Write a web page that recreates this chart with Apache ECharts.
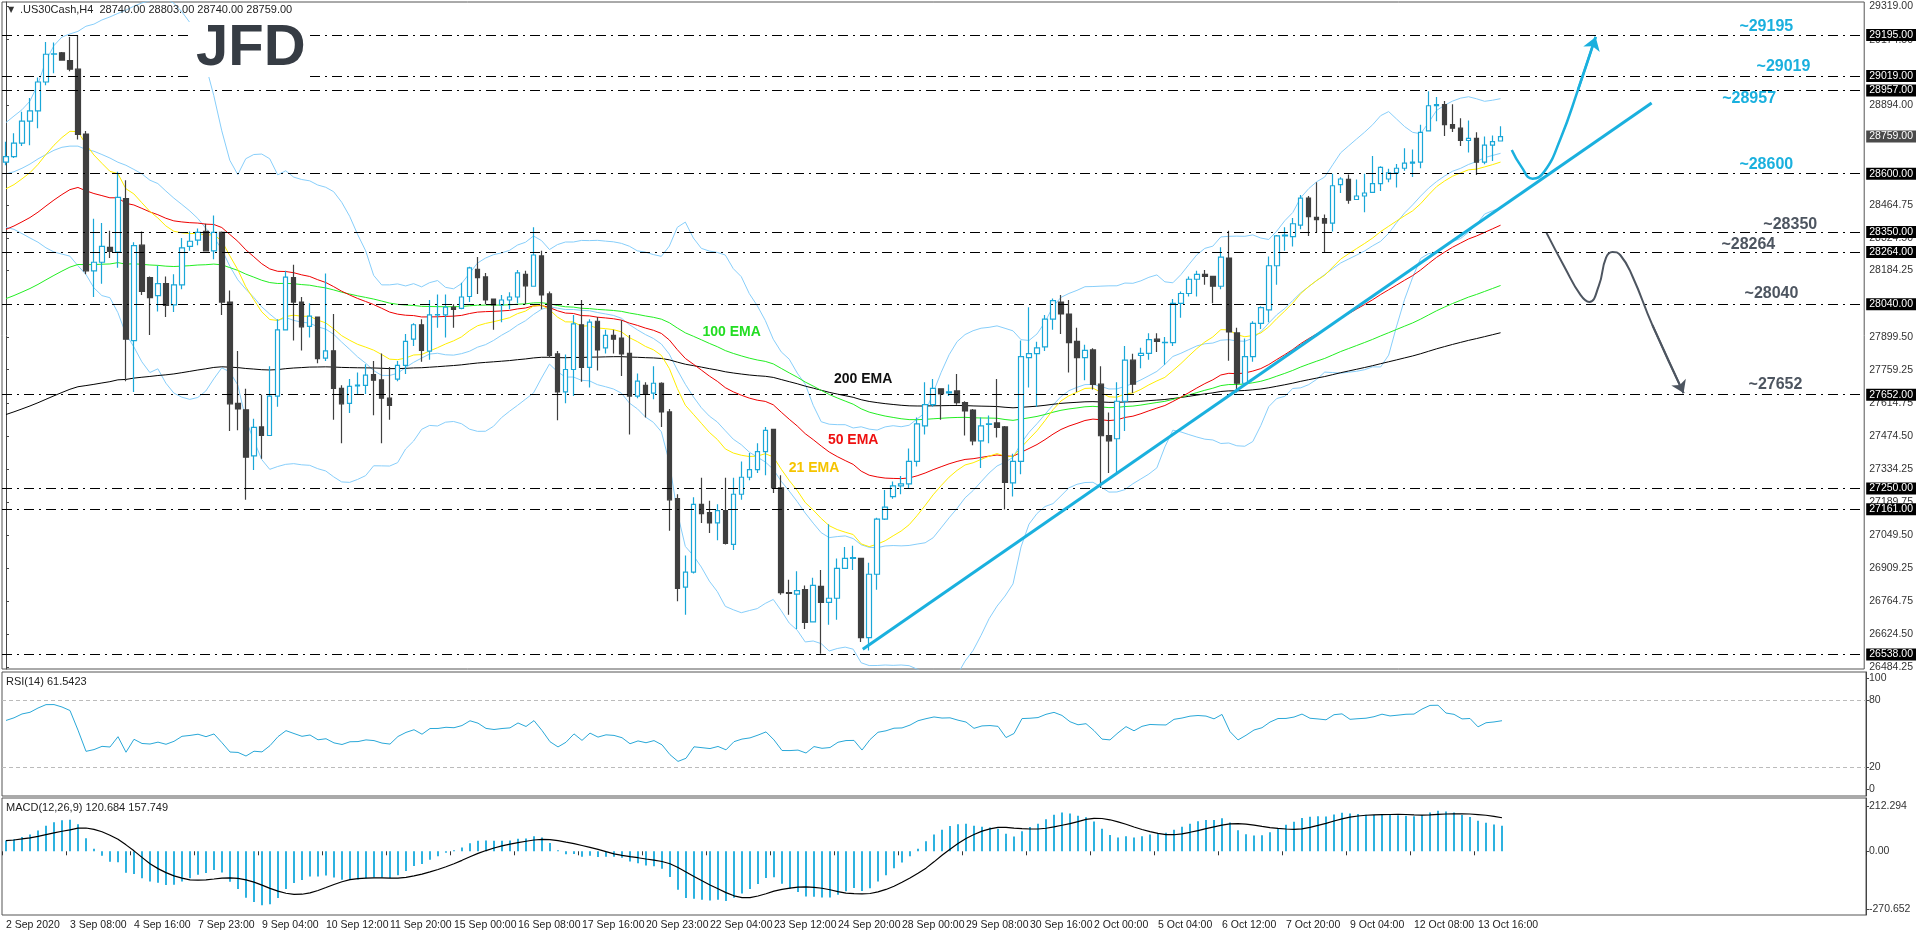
<!DOCTYPE html><html><head><meta charset="utf-8">
<script src="https://cdn.jsdelivr.net/npm/echarts@6/dist/echarts.min.js"></script>
<style>html,body{margin:0;background:#fff}#c{width:1916px;height:936px}</style></head><body><div id="c"></div><script>
const xLabels=['2 Sep 2020','3 Sep 08:00','4 Sep 16:00','7 Sep 23:00','9 Sep 04:00','10 Sep 12:00','11 Sep 20:00','15 Sep 00:00','16 Sep 08:00','17 Sep 16:00','20 Sep 23:00','22 Sep 04:00','23 Sep 12:00','24 Sep 20:00','28 Sep 00:00','29 Sep 08:00','30 Sep 16:00','2 Oct 00:00','5 Oct 04:00','6 Oct 12:00','7 Oct 20:00','9 Oct 04:00','12 Oct 08:00','13 Oct 16:00'];
// [open, close, low, high]
const ohlc=[[28649,28673,28636,28737],[28673,28731,28667,28773],[28731,28825,28718,28865],[28825,28869,28722,28924],[28869,28993,28795,29012],[28993,29112,28979,29164],[29112,29114,29030,29162],[29118,29087,29084,29122],[29085,29048,29039,29186],[29048,28768,28746,29195],
[28770,28183,28168,28783],[28183,28220,28071,28407],[28220,28288,28128,28388],[28284,28266,28238,28355],[28264,28498,28196,28608],[28493,27890,27710,28572],[27884,28291,27664,28306],[28293,28095,28080,28352],[28154,28068,27908,28159],[28077,28128,28009,28205],
[28128,28035,27985,28159],[28037,28123,28007,28168],[28123,28282,28104,28324],[28288,28310,28269,28352],[28315,28348,28293,28365],[28352,28269,28269,28385],[28269,28348,28233,28420],[28348,28049,27994,28352],[28049,27613,27496,28099],[27615,27591,27499,27839],
[27587,27384,27201,27677],[27390,27512,27329,27549],[27514,27477,27377,27652],[27477,27646,27477,27774],[27646,27930,27600,27976],[27930,28156,27927,28183],[28154,28049,27884,28209],[28049,27943,27842,28071],[27945,27989,27897,28044],[27985,27807,27787,27985],
[27809,27840,27796,28172],[27840,27679,27545,27998],[27679,27613,27444,27692],[27615,27688,27573,27719],[27690,27693,27652,27747],[27692,27736,27655,27783],[27738,27714,27564,27796],[27716,27637,27444,27829],[27637,27606,27545,27771],[27719,27778,27710,27796],
[27778,27881,27741,27912],[27890,27952,27861,27958],[27952,27842,27793,27976],[27839,27994,27802,28058],[27994,27996,27939,28082],[27994,28027,27897,28082],[28027,28018,27939,28040],[28022,28071,28018,28132],[28073,28196,28049,28201],[28190,28154,28084,28242],
[28157,28058,28040,28174],[28062,28037,27930,28062],[28037,28058,27963,28080],[28058,28071,28018,28091],[28071,28174,28044,28187],[28168,28119,28040,28183],[28117,28251,28117,28370],[28247,28080,28018,28269],[28084,27820,27811,28095],[27827,27664,27542,27839],
[27664,27760,27615,27824],[27760,27956,27646,27994],[27952,27769,27707,28058],[27769,27963,27683,27976],[27967,27844,27756,27985],[27853,27906,27829,27930],[27906,27890,27829,27930],[27895,27827,27732,27971],[27829,27646,27481,27908],[27646,27710,27637,27743],
[27692,27655,27554,27705],[27659,27701,27633,27774],[27701,27578,27514,27705],[27578,27201,27069,27591],[27206,26821,26766,27225],[26827,26891,26708,26962],[26891,27182,26885,27212],[27182,27142,27102,27296],[27146,27102,27059,27197],[27102,27155,27028,27182],
[27155,27014,27010,27296],[27010,27225,26986,27296],[27225,27298,27201,27366],[27298,27331,27285,27402],[27331,27408,27316,27444],[27408,27499,27307,27514],[27503,27252,27230,27503],[27252,26803,26794,27307],[26803,26800,26708,26858],[26797,26812,26647,26895],
[26816,26675,26647,26834],[26678,26834,26675,26867],[26830,26761,26541,26900],[26761,26779,26665,27096],[26779,26907,26687,26950],[26907,26950,26904,26999],[26950,26953,26900,27004],[26950,26610,26592,26950],[26610,26882,26555,26931],[26882,27118,26816,27124],
[27118,27170,27115,27243],[27215,27261,27206,27280],[27261,27270,27225,27303],[27270,27366,27252,27421],[27366,27527,27344,27554],[27518,27609,27481,27705],[27609,27679,27600,27719],[27677,27655,27545,27677],[27660,27664,27646,27696],[27668,27618,27609,27741],
[27618,27582,27477,27624],[27586,27454,27435,27591],[27454,27518,27338,27554],[27525,27527,27444,27563],[27531,27512,27468,27719],[27514,27276,27160,27518],[27274,27366,27215,27399],[27366,27815,27311,27884],[27811,27828,27683,28027],[27828,27853,27600,27879],
[27857,27976,27839,27994],[27976,28055,27930,28064],[28049,27998,27912,28080],[27998,27875,27747,28058],[27881,27811,27664,27939],[27811,27842,27714,27866],[27844,27696,27674,27851],[27697,27476,27252,27774],[27477,27454,27316,27576],[27463,27624,27316,27705],
[27624,27800,27496,27861],[27800,27697,27659,27828],[27820,27829,27765,27853],[27829,27888,27802,27915],[27890,27881,27835,27915],[27875,27877,27780,27899],[27875,28044,27861,28062],[28044,28086,27982,28095],[28086,28147,28073,28159],[28147,28168,28073,28183],
[28168,28159,28123,28187],[28159,28117,28044,28159],[28117,28242,28104,28284],[28238,27921,27798,28355],[27917,27701,27661,27939],[27701,27815,27697,27893],[27815,27958,27793,27967],[27958,28025,27934,28031],[28016,28205,27963,28245],[28205,28333,28123,28337],
[28333,28336,28269,28370],[28330,28385,28288,28410],[28379,28495,28361,28508],[28495,28416,28333,28504],[28412,28403,28348,28563],[28407,28388,28264,28425],[28388,28548,28352,28599],[28553,28577,28517,28585],[28575,28486,28471,28596],[28489,28504,28489,28575],
[28504,28517,28434,28599],[28520,28557,28517,28676],[28557,28627,28526,28632],[28577,28603,28563,28621],[28603,28623,28541,28641],[28623,28645,28612,28709],[28645,28649,28586,28704],[28649,28777,28623,28810],[28783,28891,28783,28953],[28891,28896,28825,28929],
[28896,28810,28761,28911],[28810,28795,28779,28898],[28795,28742,28718,28838],[28742,28751,28691,28828],[28751,28649,28594,28777],[28649,28722,28640,28759],[28722,28737,28654,28764],[28740,28759,28740,28803]];
// Bollinger band values read for the first 19 bars (before a full 20-bar window exists)
const bbUpperHead=[28819,28847,28874,28911,28984,29085,29149,29186,29199,29210,29232,29241,29259,29272,29287,29301,29318,29332,29341];
const bbMidHead=[28599,28608,28623,28641,28663,28682,28700,28713,28718,28718,28704,28696,28682,28667,28649,28636,28618,28599,28572];
const bbLowerHead=[28370,28361,28343,28324,28306,28282,28264,28255,28246,28205,28168,28110,28077,28068,28004,27912,27857,27793,27747];
// EMA start values read at the first bar
const emaSeeds={e21:28535,e50:28361,e100:28064,e200:27567,e12:28610,e26:28560};
const levels=[29195,29019,28957,28600,28350,28264,28040,27652,27250,27161,26538];
const lastPrice=28759;
const mainTicks=[29319.00,29174.50,28894.00,28464.75,28324.50,28184.25,27899.50,27759.25,27614.75,27474.50,27334.25,27189.75,27049.50,26909.25,26764.75,26624.50,26484.25];
const levelNotes=[['~29195',220.25,29229,'#1ab0de'],['~29019',222.4,29057,'#1ab0de'],['~28957',218.1,28920,'#1ab0de'],['~28600',220.25,28637,'#1ab0de'],['~28350',223.25,28380,'#4d5560'],['~28264',218,28294,'#4d5560'],['~28040',220.9,28084,'#4d5560'],['~27652',221.4,27694,'#4d5560']];
const emaNotes=[['100 EMA',90.8,27917,'#22dd22'],['200 EMA',107.25,27715,'#111'],['50 EMA',106,27454,'#ee1111'],['21 EMA',101.1,27334,'#f5c400']];
const trendLine=[[107.2,26560],[205.9,28903]];
const bullPath=[[188.4,28701],[189.6,28630],[191,28578],[192.5,28610],[194.5,28750],[196.7,28960],[198.9,29186]];
const bearPath=[[192.75,28346],[195,28200],[197,28080],[198.1,28050],[199.3,28120],[200.2,28240],[201,28264],[202,28250],[203.5,28160],[206,27950],[209.9,27659]];

const N=233;
const cats=Array.from({length:N},(_,i)=>(i%8===0&&i/8<xLabels.length)?xLabels[i/8]:'');
const closes=ohlc.map(d=>d[1]);
function ema(n,seed){let e=seed;return closes.map((c,i)=>{if(i>0)e=e+2/(n+1)*(c-e);return +e.toFixed(2);});}
const ema21=ema(21,emaSeeds.e21),ema50=ema(50,emaSeeds.e50),ema100=ema(100,emaSeeds.e100),ema200=ema(200,emaSeeds.e200);
const bbU=[],bbM=[],bbL=[];
closes.forEach((c,i)=>{if(i<19){bbU.push(bbUpperHead[i]);bbM.push(bbMidHead[i]);bbL.push(bbLowerHead[i]);return;}
 const w=closes.slice(i-19,i+1);const m=w.reduce((a,b)=>a+b,0)/20;const s=Math.sqrt(w.reduce((a,b)=>a+(b-m)*(b-m),0)/20);
 bbU.push(+(m+2*s).toFixed(2));bbM.push(+m.toFixed(2));bbL.push(+(m-2*s).toFixed(2));});
let ag=42,al=26;const rsi=closes.map((c,i)=>{if(i>0){const ch=c-closes[i-1];ag=(ag*13+Math.max(ch,0))/14;al=(al*13+Math.max(-ch,0))/14;}return +(100-100/(1+ag/al)).toFixed(2);});
const e12=ema(12,emaSeeds.e12),e26=ema(26,emaSeeds.e26);
const macd=e12.map((v,i)=>+(v-e26[i]).toFixed(2));
const signal=macd.map((v,i)=>{const w=macd.slice(Math.max(0,i-8),i+1);return +(w.reduce((a,b)=>a+b,0)/w.length).toFixed(2);});

const F='Liberation Sans';
const dashDot=[10,5,2,5];
const chart=echarts.init(document.getElementById('c'));
const hiddenX=g=>({type:'category',gridIndex:g,data:cats,boundaryGap:true,axisLine:{show:false},axisTick:{show:false},axisLabel:{show:false}});
const lineS=(name,data,color,w)=>({name,type:'line',xAxisIndex:0,yAxisIndex:0,data,showSymbol:false,symbol:'none',lineStyle:{color,width:w||1},silent:true,z:3});
const noteData=(arr,size)=>arr.map(a=>({coord:[a[1],a[2]],symbolSize:1,itemStyle:{color:'rgba(0,0,0,0)'},label:{show:true,position:'inside',formatter:a[0],color:a[3],fontFamily:F,fontWeight:'bold',fontSize:size}}));
const boxLabel=(v,bg)=>({show:true,position:'end',distance:2,formatter:v.toFixed(2),backgroundColor:bg,color:'#fff',fontFamily:F,fontSize:10.5,padding:[1,3,0,3]});
chart.setOption({
 animation:false,backgroundColor:'#fff',
 grid:[{left:2,top:2,width:1864,height:667,show:true,borderColor:'#555',borderWidth:1},
       {left:2,top:672,width:1864,height:124,show:true,borderColor:'#555',borderWidth:1},
       {left:2,top:798,width:1864,height:117,show:true,borderColor:'#555',borderWidth:1}],
 xAxis:[hiddenX(0),hiddenX(1),
  {type:'category',gridIndex:2,data:cats,boundaryGap:true,position:'bottom',axisLine:{show:false},
   axisTick:{show:true,length:4,interval:i=>cats[i]!=='',lineStyle:{color:'#333'}},
   axisLabel:{show:true,interval:i=>cats[i]!=='',align:'left',margin:5,color:'#222',fontFamily:F,fontSize:10.5}},
  {type:'value',gridIndex:0,min:-0.5,max:232.5,show:false}],
 yAxis:[
  {type:'value',gridIndex:0,position:'right',min:26475.7,max:29336,splitLine:{show:false},axisLine:{show:true,lineStyle:{color:'#444'}},
   axisTick:{show:true,length:3,customValues:mainTicks},axisLabel:{customValues:mainTicks,formatter:v=>v.toFixed(2),color:'#333',fontFamily:F,fontSize:10.5,margin:5}},
  {type:'value',gridIndex:1,position:'right',min:-6.3,max:105.4,splitLine:{show:false},axisLine:{show:true,lineStyle:{color:'#444'}},
   axisTick:{show:true,length:3,customValues:[100,80,20,0]},axisLabel:{customValues:[100,80,20,0],color:'#333',fontFamily:F,fontSize:10.5,margin:3}},
  {type:'value',gridIndex:2,position:'right',min:-298.8,max:249.9,splitLine:{show:false},axisLine:{show:true,lineStyle:{color:'#444'}},
   axisTick:{show:true,length:3,customValues:[212.294,0,-270.652]},axisLabel:{customValues:[212.294,0,-270.652],formatter:v=>v===0?'0.00':String(v),color:'#333',fontFamily:F,fontSize:10.5,margin:3}}],
 series:[
  lineS('BBU',bbU,'#87cefa'),lineS('BBM',bbM,'#87cefa'),lineS('BBL',bbL,'#87cefa'),
  lineS('EMA200',ema200,'#000'),lineS('EMA100',ema100,'#22ee22'),lineS('EMA50',ema50,'#ee0000'),lineS('EMA21',ema21,'#ffee00'),
  {type:'candlestick',xAxisIndex:0,yAxisIndex:0,data:ohlc.map(d=>[d[0],d[1],d[2],d[3]]),barWidth:5,z:4,
   itemStyle:{color:'#fff',color0:'#3f3f3f',borderColor:'#1aa7d8',borderColor0:'#3f3f3f',borderWidth:1.2},
   markLine:{silent:true,symbol:'none',animation:false,
    data:levels.map(v=>({yAxis:v,lineStyle:{color:'#000',width:1,type:dashDot},label:boxLabel(v,'#000')}))
     .concat([{yAxis:lastPrice,lineStyle:{color:'rgba(255,255,255,0)',width:1},label:boxLabel(lastPrice,'#4a4a4a')}])}},
  {type:'line',xAxisIndex:3,yAxisIndex:0,data:trendLine,showSymbol:false,symbol:'none',lineStyle:{color:'#1ab0de',width:3},z:6,
   markPoint:{silent:true,data:noteData(levelNotes,16).concat(noteData(emaNotes,14))}},
  {type:'line',xAxisIndex:3,yAxisIndex:0,data:bullPath,smooth:0.5,showSymbol:false,symbol:'none',lineStyle:{color:'#1ab0de',width:2.5},z:6,
   markLine:{silent:true,symbol:['none','arrow'],symbolSize:13,lineStyle:{color:'#1ab0de',width:2.5,type:'solid'},label:{show:false},data:[[{coord:bullPath[bullPath.length-2]},{coord:bullPath[bullPath.length-1]}]]}},
  {type:'line',xAxisIndex:3,yAxisIndex:0,data:bearPath,smooth:0.5,showSymbol:false,symbol:'none',lineStyle:{color:'#4d5560',width:2},z:6,
   markLine:{silent:true,symbol:['none','arrow'],symbolSize:12,lineStyle:{color:'#4d5560',width:2,type:'solid'},label:{show:false},data:[[{coord:bearPath[bearPath.length-2]},{coord:bearPath[bearPath.length-1]}]]}},
  {type:'line',xAxisIndex:1,yAxisIndex:1,data:rsi,showSymbol:false,symbol:'none',lineStyle:{color:'#2aa8d8',width:1},
   markLine:{silent:true,symbol:'none',label:{show:false},lineStyle:{color:'#bbb',type:[4,3],width:1},data:[{yAxis:80},{yAxis:20}]}},
  {type:'bar',xAxisIndex:2,yAxisIndex:2,data:macd,barWidth:2,itemStyle:{color:'#2eb2e0'}},
  {type:'line',xAxisIndex:2,yAxisIndex:2,data:signal,showSymbol:false,symbol:'none',lineStyle:{color:'#000',width:1.2},z:5}],
 graphic:{elements:[
  {type:'rect',shape:{x:188,y:22,width:118,height:55},style:{fill:'#fff'},z:100},
  {type:'text',x:196,y:20,style:{text:'JFD',font:'bold 58px "Liberation Sans"',fill:'#363c44'},z:101},
  {type:'text',x:8,y:6,style:{text:'▼',font:'8px "DejaVu Sans"',fill:'#333'},z:101},
  {type:'text',x:20,y:4,style:{text:'.US30Cash,H4  28740.00 28803.00 28740.00 28759.00',font:'11px "Liberation Sans"',fill:'#222'},z:101},
  {type:'text',x:6,y:676,style:{text:'RSI(14) 61.5423',font:'11px "Liberation Sans"',fill:'#222'},z:101},
  {type:'text',x:6,y:802,style:{text:'MACD(12,26,9) 120.684 157.749',font:'11px "Liberation Sans"',fill:'#222'},z:101}]}
});
</script></body></html>
